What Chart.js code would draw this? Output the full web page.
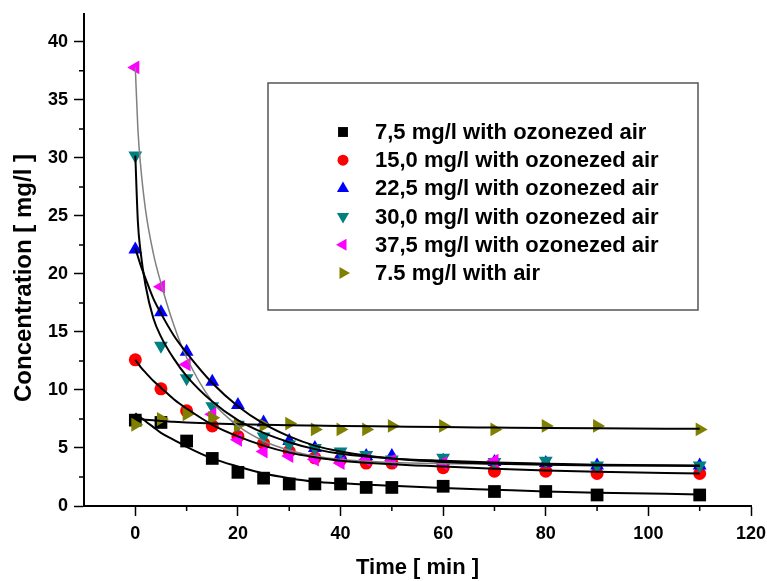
<!DOCTYPE html>
<html>
<head>
<meta charset="utf-8">
<script src="https://cdn.jsdelivr.net/npm/chart.js@4/dist/chart.umd.min.js"></script>
<style>
  html, body { margin: 0; padding: 0; background: #fff; }
  #wrap { width: 767px; height: 581px; }
</style>
</head>
<body>
<div id="wrap"><canvas id="chart" width="767" height="581"></canvas></div>
<script>
// measured points, time in min
const times = [0, 5, 10, 15, 20, 25, 30, 35, 40, 45, 50, 60, 70, 80, 90, 110];
const times375 = [0, 5, 10, 15, 20, 25, 30, 35, 40, 45, 50, 60, 70];

const conc75 = [7.4, 7.2, 5.6, 4.1, 2.9, 2.4, 1.9, 1.9, 1.9, 1.6, 1.6, 1.7, 1.25, 1.25, 0.95, 0.95];
const conc150 = [12.6, 10.1, 8.2, 6.9, 6.0, 5.4, 4.7, 4.15, 4.0, 3.7, 3.7, 3.3, 3.0, 3.0, 2.8, 2.8];
const conc225 = [22.1, 16.7, 13.3, 10.7, 8.7, 7.2, 5.6, 5.0, 4.3, 4.3, 4.3, 3.9, 3.8, 3.7, 3.5, 3.5];
const conc300 = [30.2, 13.8, 11.0, 8.6, 7.0, 6.0, 5.3, 5.0, 4.7, 4.4, 4.0, 4.15, 3.8, 3.9, 3.5, 3.5];
const conc375 = [37.8, 18.9, 12.2, 7.9, 5.7, 4.7, 4.3, 4.0, 3.7, 4.0, 3.9, 3.7, 3.9];
const concAir = [7.0, 7.5, 7.9, 7.6, 6.95, 6.95, 7.1, 6.6, 6.6, 6.6, 6.9, 6.9, 6.6, 6.9, 6.9, 6.6];

// fitted curves
const fitTimes = [0, 0.5, 1, 2, 3.5, 5, 7.5, 10, 15, 20, 25, 30, 35, 40, 50, 60, 70, 80, 90, 110];
const fit75 = [8.0, 7.8, 7.65, 7.3, 6.8, 6.3, 5.7, 5.1, 4.1, 3.4, 2.8, 2.4, 2.1, 1.95, 1.75, 1.55, 1.4, 1.25, 1.15, 1.0];
const fit150 = [12.6, 12.3, 12.0, 11.5, 10.8, 10.2, 9.2, 8.4, 7.0, 6.0, 5.2, 4.6, 4.2, 3.9, 3.6, 3.4, 3.2, 3.05, 2.95, 2.8];
const fit225 = [22.2, 21.5, 20.8, 19.6, 17.9, 16.6, 14.7, 13.2, 10.6, 8.6, 7.1, 6.0, 5.2, 4.7, 4.1, 3.8, 3.65, 3.55, 3.5, 3.45];
const fit300 = [30.2, 24.5, 22.0, 19.0, 16.2, 14.6, 12.7, 11.2, 9.0, 7.4, 6.3, 5.5, 4.9, 4.5, 4.1, 3.9, 3.75, 3.65, 3.55, 3.5];
const fit375 = [37.8, 32.5, 29.5, 25.5, 21.8, 19.2, 15.6, 12.8, 9.0, 6.9, 5.6, 4.8, 4.3, 4.0, 3.75, 3.65, 3.6];
const fitAir = [7.5, 7.49, 7.47, 7.44, 7.39, 7.33, 7.26, 7.2, 7.12, 7.05, 7.0, 6.96, 6.93, 6.9, 6.85, 6.8, 6.76, 6.72, 6.69, 6.65];

const xTicks = [0, 20, 40, 60, 80, 100, 120];
const yTicks = [0, 5, 10, 15, 20, 25, 30, 35, 40];

const labels = [
    '7,5 mg/l with ozonezed air',
    '15,0 mg/l with ozonezed air',
    '22,5 mg/l with ozonezed air',
    '30,0 mg/l with ozonezed air',
    '37,5 mg/l with ozonezed air',
    '7.5 mg/l with air'
];

const FONT = "'Liberation Sans', Arial, sans-serif";

function pts(xs, ys) {
    return ys.map((y, i) => ({ x: xs[i], y: y }));
}

function marks(label, xs, ys, color, style, radius, rotation, order) {
    return {
        label: label,
        data: pts(xs, ys),
        showLine: false,
        pointStyle: style,
        pointRadius: radius,
        pointRotation: rotation,
        pointBackgroundColor: color,
        pointBorderWidth: 0,
        pointBorderColor: color,
        order: order,
        isMarks: true
    };
}

function fit(xs, ys, color, width) {
    return {
        label: '',
        data: pts(xs, ys),
        showLine: true,
        borderColor: color,
        borderWidth: width,
        pointRadius: 0,
        cubicInterpolationMode: 'monotone',
        order: 0
    };
}

const datasets = [
    marks(labels[0], times, conc75, '#000000', 'rect', 9, 0, 6),
    marks(labels[1], times, conc150, '#ff0000', 'circle', 6.5, 0, 5),
    marks(labels[2], times, conc225, '#0000ff', 'triangle', 8, 0, 4),
    marks(labels[3], times, conc300, '#008080', 'triangle', 8, 180, 3),
    marks(labels[4], times375, conc375, '#ff00ff', 'triangle', 8, 270, 2),
    marks(labels[5], times, concAir, '#808000', 'triangle', 8, 90, 1),
    fit(fitTimes, fit75, '#000', 2),
    fit(fitTimes, fit150, '#000', 2),
    fit(fitTimes, fit225, '#000', 2),
    fit(fitTimes, fit300, '#000', 2),
    fit(fitTimes.slice(0, fit375.length), fit375, '#808080', 1.5),
    fit(fitTimes, fitAir, '#000', 2)
];

// short minor ticks, legend box and the y title
const extras = {
    id: 'extras',
    afterDraw(chart) {
        const ctx = chart.ctx;
        const xs = chart.scales.x, ys = chart.scales.y;
        const area = chart.chartArea;
        ctx.save();
        ctx.strokeStyle = '#000';
        ctx.lineWidth = 1.5;
        ctx.beginPath();
        for (let v = 10; v < 120; v += 20) {
            const px = xs.getPixelForValue(v);
            ctx.moveTo(px, area.bottom);
            ctx.lineTo(px, area.bottom + 5);
        }
        for (let v = 2.5; v < 42; v += 5) {
            const py = ys.getPixelForValue(v);
            ctx.moveTo(area.left, py);
            ctx.lineTo(area.left - 5, py);
        }
        ctx.stroke();

        // legend
        ctx.strokeStyle = '#555';
        ctx.lineWidth = 1.5;
        ctx.strokeRect(268, 83, 430, 227);
        ctx.font = 'bold 22px ' + FONT;
        ctx.textBaseline = 'middle';
        ctx.textAlign = 'left';
        chart.data.datasets.filter(d => d.isMarks).forEach((d, i) => {
            const y = 132 + i * 28.2;
            ctx.fillStyle = d.pointBackgroundColor;
            Chart.helpers.drawPoint(ctx, {
                pointStyle: d.pointStyle,
                radius: d.pointStyle === 'rect' ? 7 : (d.pointStyle === 'circle' ? 5.5 : 7),
                rotation: d.pointRotation,
                borderWidth: 0
            }, 343, y);
            ctx.fillStyle = '#000';
            ctx.fillText(d.label, 375, y + 1);
        });

        // y title
        ctx.translate(24, 278);
        ctx.rotate(-Math.PI / 2);
        ctx.font = 'bold 24px ' + FONT;
        ctx.textAlign = 'center';
        ctx.fillStyle = '#000';
        ctx.fillText('Concentration [ mg/l ]', 0, 0);
        ctx.restore();
    }
};

new Chart(document.getElementById('chart'), {
    type: 'scatter',
    data: { datasets: datasets },
    options: {
        responsive: false,
        animation: false,
        layout: { padding: { left: 0, right: 16, top: 14, bottom: 0 } },
        plugins: {
            legend: { display: false },
            tooltip: { enabled: false }
        },
        scales: {
            x: {
                type: 'linear',
                min: -10,
                max: 120,
                afterBuildTicks: s => { s.ticks = xTicks.map(v => ({ value: v })); },
                afterFit: s => { s.height = 75; s.paddingLeft = 0; s.paddingRight = 0; },
                border: { color: '#000', width: 2 },
                grid: { drawOnChartArea: false, tickLength: 10, tickWidth: 1.5, tickColor: '#000' },
                ticks: { color: '#000', padding: 7, font: { family: FONT, size: 18, weight: 'bold' }, maxRotation: 0 },
                title: {
                    display: true,
                    text: 'Time [ min ]',
                    color: '#000',
                    font: { family: FONT, size: 22, weight: 'bold' },
                    padding: { top: 0, bottom: 0 }
                }
            },
            y: {
                type: 'linear',
                min: 0,
                max: 42.4,
                afterBuildTicks: s => { s.ticks = yTicks.map(v => ({ value: v })); },
                afterFit: s => { s.width = 84; s.paddingTop = 0; s.paddingBottom = 0; },
                border: { color: '#000', width: 2 },
                grid: { drawOnChartArea: false, tickLength: 10, tickWidth: 1.5, tickColor: '#000' },
                ticks: { color: '#000', padding: 6, font: { family: FONT, size: 18, weight: 'bold' } }
            }
        }
    },
    plugins: [extras]
});
</script>
</body>
</html>
